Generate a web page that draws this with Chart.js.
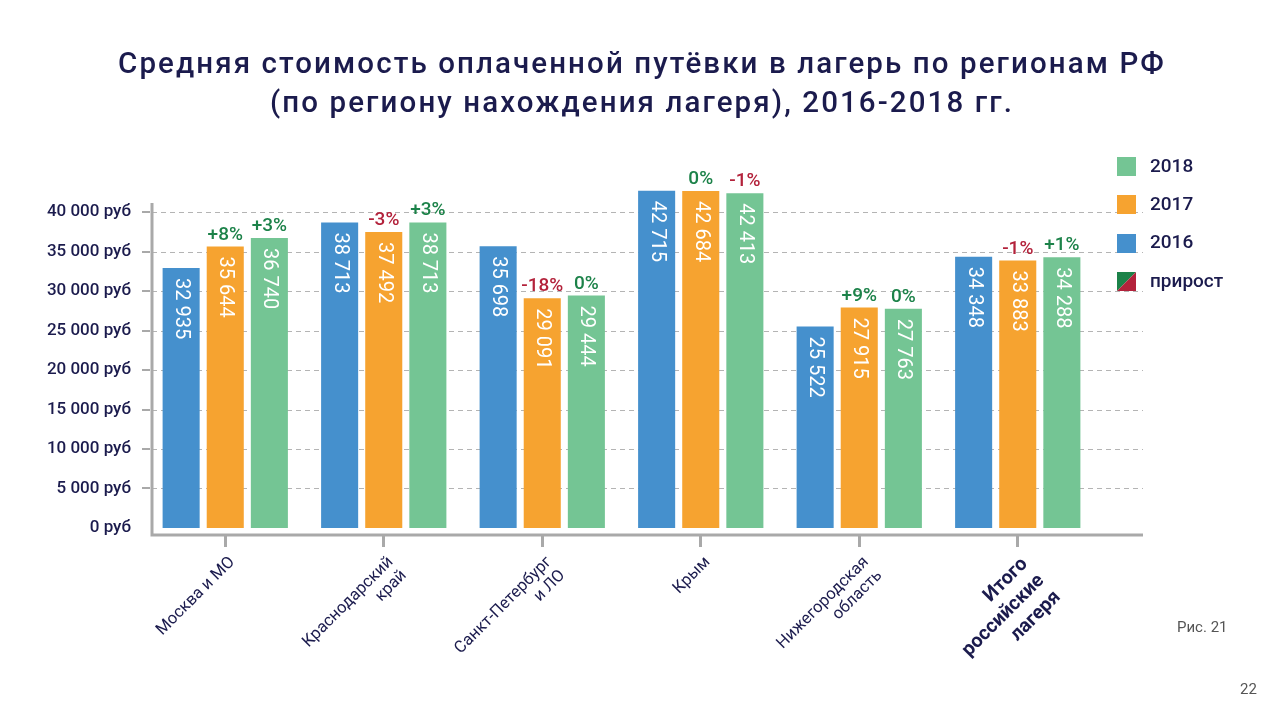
<!DOCTYPE html>
<html>
<head>
<meta charset="utf-8">
<script src="https://cdn.jsdelivr.net/npm/chart.js@4.4.1/dist/chart.umd.min.js"></script>
<style>
    html, body { margin: 0; padding: 0; background: #fff; }
    #wrap { width: 1280px; height: 720px; position: relative; }
</style>
</head>
<body>
<div id="wrap"><canvas id="campsChart" width="1280" height="720"></canvas></div>
<script>
// данные с рисунка
const titleLines = [
    "Средняя стоимость оплаченной путёвки в лагерь по регионам РФ",
    "(по региону нахождения лагеря), 2016-2018 гг."
];
const categories = [
    ["Москва и МО"],
    ["Краснодарский", "край"],
    ["Санкт-Петербург", "и ЛО"],
    ["Крым"],
    ["Нижегородская", "область"],
    ["Итого", "российские", "лагеря"]
];
const values2016 = [32935, 38713, 35698, 42715, 25522, 34348];
const values2017 = [35644, 37492, 29091, 42684, 27915, 33883];
const values2018 = [36740, 38713, 29444, 42413, 27763, 34288];
const growth2017 = ["+8%", "-3%", "-18%", "0%", "+9%", "-1%"];
const growth2018 = ["+3%", "+3%", "0%", "-1%", "0%", "+1%"];
const yTicks = [0, 5000, 10000, 15000, 20000, 25000, 30000, 35000, 40000];
const legendItems = ["2018", "2017", "2016", "прирост"];

(function () {
    const NAVY = "#1b1b4d",
        AXIS = "#a9a9a9",
        BLUE = "#4590cd",
        ORANGE = "#f6a330",
        GREEN = "#74c594",
        UP = "#1c8249",
        DOWN = "#b3223b",
        FONT = "Roboto, 'Liberation Sans', sans-serif";

    function fmt(v) {
        return String(v).replace(/\B(?=(\d{3})+(?!\d))/g, " ");
    }

    // оси, сетка, подписи, легенда
    const decorPlugin = {
        id: "decor",
        beforeDatasetsDraw(chart) {
            const ctx = chart.ctx, y = chart.scales.y, area = chart.chartArea;
            const axisX = area.left + 6, rightX = 1143;
            ctx.save();
            ctx.strokeStyle = "#b4b4b4";
            ctx.lineWidth = 1;
            ctx.setLineDash([5, 4]);
            yTicks.forEach(function (t) {
                if (t === 0) return;
                const py = Math.round(y.getPixelForValue(t)) + 0.5;
                ctx.beginPath();
                ctx.moveTo(axisX, py);
                ctx.lineTo(rightX, py);
                ctx.stroke();
            });
            ctx.setLineDash([]);
            ctx.strokeStyle = AXIS;
            ctx.lineWidth = 2;
            yTicks.forEach(function (t) {
                if (t === 0) return;
                const py = Math.round(y.getPixelForValue(t));
                ctx.beginPath();
                ctx.moveTo(axisX - 10, py);
                ctx.lineTo(axisX - 2, py);
                ctx.stroke();
            });
            ctx.lineWidth = 3;
            ctx.beginPath();
            ctx.moveTo(axisX, 203);
            ctx.lineTo(axisX, area.bottom);
            ctx.lineTo(rightX, area.bottom);
            ctx.stroke();
            ctx.restore();
        },
        afterDatasetsDraw(chart) {
            const ctx = chart.ctx;
            ctx.save();
            // значения внутри столбиков
            chart.data.datasets.forEach(function (ds, i) {
                const meta = chart.getDatasetMeta(i);
                meta.data.forEach(function (bar, j) {
                    ctx.save();
                    ctx.translate(bar.x, bar.y + 10);
                    ctx.rotate(Math.PI / 2);
                    ctx.fillStyle = "#ffffff";
                    ctx.font = "20px " + FONT;
                    ctx.textAlign = "left";
                    ctx.textBaseline = "middle";
                    ctx.fillText(fmt(ds.data[j]), 0, 0);
                    ctx.restore();
                });
            });
            // прирост над столбиками 2017 и 2018
            [[1, growth2017], [2, growth2018]].forEach(function (pair) {
                const meta = chart.getDatasetMeta(pair[0]);
                meta.data.forEach(function (bar, j) {
                    const txt = pair[1][j];
                    ctx.fillStyle = txt.charAt(0) === "-" ? DOWN : UP;
                    ctx.font = "500 19px " + FONT;
                    ctx.textAlign = "center";
                    ctx.textBaseline = "alphabetic";
                    ctx.fillText(txt, bar.x, bar.y - 7);
                });
            });
            ctx.restore();
        },
        afterDraw(chart) {
            const ctx = chart.ctx;
            const colors = [GREEN, ORANGE, BLUE];
            ctx.save();
            // заголовок
            ctx.fillStyle = NAVY;
            ctx.font = "500 29.5px " + FONT;
            ctx.letterSpacing = "2.1px";
            ctx.textAlign = "center";
            ctx.textBaseline = "alphabetic";
            titleLines.forEach(function (line, i) {
                ctx.fillText(line, 642, 73 + i * 39);
            });
            ctx.letterSpacing = "0px";
            legendItems.forEach(function (label, i) {
                const cy = 166 + i * 38.3, bx = 1117, by = Math.round(cy - 9);
                if (i < 3) {
                    ctx.fillStyle = colors[i];
                    ctx.fillRect(bx, by, 19, 19);
                } else {
                    ctx.fillStyle = UP;
                    ctx.beginPath();
                    ctx.moveTo(bx, by);
                    ctx.lineTo(bx + 19, by);
                    ctx.lineTo(bx, by + 19);
                    ctx.closePath();
                    ctx.fill();
                    ctx.fillStyle = DOWN;
                    ctx.beginPath();
                    ctx.moveTo(bx + 19, by);
                    ctx.lineTo(bx + 19, by + 19);
                    ctx.lineTo(bx, by + 19);
                    ctx.closePath();
                    ctx.fill();
                }
                ctx.fillStyle = NAVY;
                ctx.font = "500 19px " + FONT;
                ctx.textAlign = "left";
                ctx.textBaseline = "middle";
                ctx.fillText(label, 1150, cy + 1);
            });
            ctx.fillStyle = "#555555";
            ctx.font = "15px " + FONT;
            ctx.textAlign = "left";
            ctx.fillText("Рис. 21", 1177, 628);
            ctx.fillText("22", 1240, 690);
            ctx.restore();
        }
    };

    const ctx = document.getElementById("campsChart").getContext("2d");
    new Chart(ctx, {
        type: "bar",
        data: {
            labels: categories,
            datasets: [
                { label: "2016", data: values2016, backgroundColor: BLUE },
                { label: "2017", data: values2017, backgroundColor: ORANGE },
                { label: "2018", data: values2018, backgroundColor: GREEN }
            ]
        },
        options: {
            responsive: false,
            animation: false,
            datasets: {
                bar: { barPercentage: 0.84, categoryPercentage: 0.835 }
            },
            layout: { padding: { top: 157, right: 183, bottom: 0, left: 0 } },
            plugins: {
                legend: { display: false },
                tooltip: { enabled: false },
                title: { display: false }
            },
            scales: {
                x: {
                    grid: {
                        display: true,
                        drawOnChartArea: false,
                        drawTicks: true,
                        tickLength: 12,
                        offset: false,
                        color: AXIS,
                        lineWidth: 3
                    },
                    border: { display: false },
                    ticks: {
                        autoSkip: false,
                        maxRotation: 45,
                        minRotation: 45,
                        padding: 6,
                        labelOffset: 7,
                        color: NAVY,
                        font: function (c) {
                            return c.index === 5
                                ? { family: FONT, size: 19.5, weight: "bold", lineHeight: 1.2 }
                                : { family: FONT, size: 16.5, lineHeight: 1.15 };
                        }
                    },
                    afterFit: function (scale) {
                        scale.height = 185;
                    }
                },
                y: {
                    min: -900,
                    max: 47000,
                    grid: { display: false },
                    border: { display: false },
                    ticks: {
                        padding: 7,
                        color: NAVY,
                        font: { family: FONT, size: 17, weight: "500" },
                        callback: function (v) {
                            return fmt(v) + " руб";
                        }
                    },
                    afterBuildTicks: function (scale) {
                        scale.ticks = yTicks.map(function (v) {
                            return { value: v };
                        });
                    },
                    afterFit: function (scale) {
                        scale.width = 146;
                    }
                }
            }
        },
        plugins: [decorPlugin]
    });
})();
</script>
</body>
</html>
